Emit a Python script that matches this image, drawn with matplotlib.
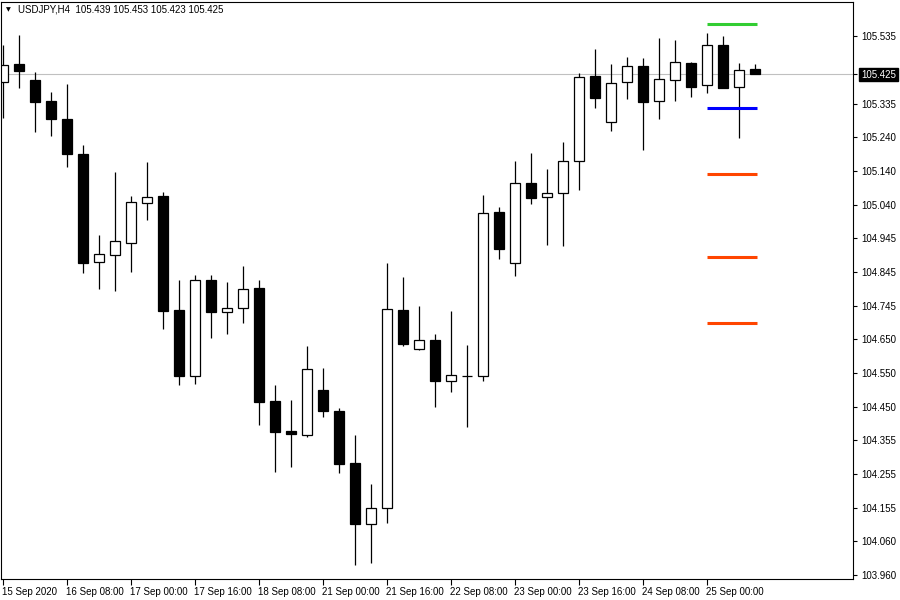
import matplotlib
matplotlib.use("Agg")
import matplotlib.pyplot as plt
import matplotlib.transforms as mtransforms

symbol = "USDJPY,H4"

# H4 bars, oldest first
opens = [105.401, 105.453, 105.406, 105.345, 105.292, 105.190, 104.875, 104.895,
         104.930, 105.047, 105.067, 104.734, 104.541, 104.822, 104.728, 104.740,
         104.799, 104.468, 104.381, 104.369, 104.501, 104.439, 104.287, 104.109,
         104.156, 104.734, 104.620, 104.647, 104.527, 104.541, 104.541, 105.021,
         104.872, 105.105, 105.065, 105.076, 105.170, 105.418, 105.284, 105.401,
         105.447, 105.345, 105.406, 105.456, 105.392, 105.509, 105.386, 105.439]
highs = [105.509, 105.538, 105.430, 105.371, 105.395, 105.216, 104.953, 105.138,
         105.067, 105.167, 105.079, 104.822, 104.837, 104.837, 104.816, 104.863,
         104.822, 104.515, 104.471, 104.629, 104.565, 104.448, 104.369, 104.226,
         104.872, 104.831, 104.746, 104.664, 104.731, 104.632, 105.070, 105.035,
         105.170, 105.193, 105.146, 105.225, 105.427, 105.497, 105.453, 105.474,
         105.471, 105.529, 105.523, 105.459, 105.544, 105.535, 105.456, 105.453]
lows = [105.295, 105.383, 105.254, 105.243, 105.152, 104.842, 104.796, 104.790,
        104.845, 104.997, 104.679, 104.515, 104.518, 104.652, 104.664, 104.696,
        104.398, 104.261, 104.276, 104.363, 104.422, 104.258, 103.989, 103.995,
        104.112, 104.629, 104.618, 104.451, 104.495, 104.392, 104.527, 104.883,
        104.834, 105.044, 104.924, 104.921, 105.085, 105.325, 105.257, 105.351,
        105.202, 105.292, 105.345, 105.357, 105.368, 105.383, 105.237, 105.423]
closes = [105.450, 105.433, 105.342, 105.292, 105.190, 104.872, 104.898, 104.936,
          105.050, 105.065, 104.731, 104.541, 104.822, 104.728, 104.740, 104.796,
          104.466, 104.378, 104.372, 104.562, 104.439, 104.284, 104.109, 104.156,
          104.737, 104.635, 104.647, 104.527, 104.544, 104.541, 105.018, 104.913,
          105.105, 105.062, 105.076, 105.170, 105.415, 105.354, 105.398, 105.447,
          105.342, 105.409, 105.459, 105.386, 105.509, 105.383, 105.436, 105.425]

time_labels = ["15 Sep 2020", "16 Sep 08:00", "17 Sep 00:00", "17 Sep 16:00",
               "18 Sep 08:00", "21 Sep 00:00", "21 Sep 16:00", "22 Sep 08:00",
               "23 Sep 00:00", "23 Sep 16:00", "24 Sep 08:00", "25 Sep 00:00"]
price_ticks = [105.535, 105.425, 105.335, 105.240, 105.140, 105.040, 104.945,
               104.845, 104.745, 104.650, 104.550, 104.450, 104.355, 104.255,
               104.155, 104.060, 103.960]

# indicator levels drawn over the last few bars
level_prices = [105.570, 105.325, 105.132, 104.889, 104.696]
level_colors = ["#32CD32", "#0000FF", "#FF4500", "#FF4500", "#FF4500"]

FONT = "Liberation Sans"

fig = plt.figure(figsize=(9, 6), dpi=100)
ax = fig.add_axes([1 / 900, 21 / 600, 852 / 900, 577 / 600])

n = len(opens)
xs = list(range(n))
bottoms = [min(o, c) for o, c in zip(opens, closes)]
heights = [abs(c - o) for o, c in zip(opens, closes)]
faces = ["white" if c > o else "black" for o, c in zip(opens, closes)]

ax.axhline(closes[-1], color="#C0C0C0", lw=0.8, zorder=0)
ax.vlines(xs, lows, highs, color="black", lw=0.9, zorder=1)
ax.bar(xs, heights, bottom=bottoms, width=0.64, color=faces,
       edgecolor="black", linewidth=0.9, zorder=2)

ax.hlines(level_prices, n - 4, n - 1 + 0.12, colors=level_colors, lw=2.2, zorder=3)

ax.set_xlim(-0.125, 53.125)
ax.set_ylim(103.948, 105.634)

ax.yaxis.tick_right()
ax.set_yticks(price_ticks)
ax.set_yticklabels([f"{p:.3f}" for p in price_ticks], fontsize=7, fontfamily=FONT)
ax.tick_params(axis="y", direction="out", length=3, width=0.8, pad=3)

# the current price label sits in a black box on the scale
for lbl, p in zip(ax.get_yticklabels(), price_ticks):
    if abs(p - closes[-1]) < 1e-9:
        lbl.set_color("white")
        lbl.set_bbox(dict(boxstyle="square,pad=0.2", fc="black", ec="black"))

ax.set_xticks(range(0, 4 * len(time_labels), 4))
ax.set_xticklabels(time_labels, fontsize=7, fontfamily=FONT, ha="left")
ax.tick_params(axis="x", direction="out", length=4, width=0.8, pad=1.5)
for lbl in ax.get_xticklabels():
    lbl.set_transform(lbl.get_transform() + mtransforms.ScaledTranslation(-1 / 100, 0, fig.dpi_scale_trans))

for sp in ax.spines.values():
    sp.set_color("black")
    sp.set_linewidth(0.8)

fig.text(8 / 900, 1 - 10 / 600, "\u25bc", fontsize=4.5, va="center", ha="center")
fig.text(18 / 900, 1 - 10 / 600,
         f"{symbol}  {opens[-1]:.3f} {highs[-1]:.3f} {lows[-1]:.3f} {closes[-1]:.3f}",
         fontsize=7, fontfamily=FONT, va="center", ha="left")

fig.savefig("out.png", dpi=100)
